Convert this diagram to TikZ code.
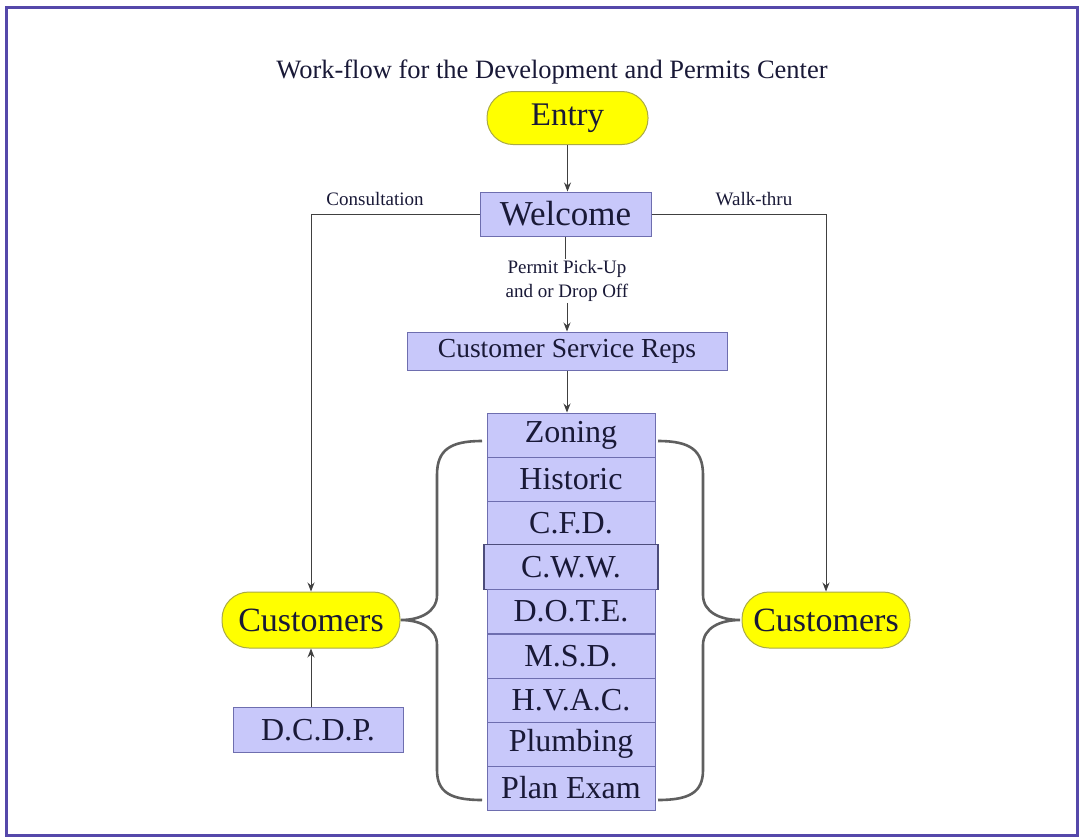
\documentclass[tikz,border=0pt]{standalone}
\usepackage{fontspec}
\setmainfont{Liberation Serif}
\usetikzlibrary{arrows.meta,calc}
\definecolor{boxfill}{RGB}{200,200,250}
\definecolor{boxline}{RGB}{110,110,175}
\definecolor{yel}{RGB}{255,255,0}
\definecolor{yelline}{RGB}{170,170,70}
\definecolor{txt}{RGB}{25,25,55}
\definecolor{frame}{RGB}{85,72,170}
\definecolor{brace}{RGB}{95,95,95}
\tikzset{
  bluebox/.style={draw=boxline, line width=1pt, fill=boxfill, text=txt, inner sep=0pt, font=\fontsize{32}{34}\selectfont},
  yelbox/.style={draw=yelline, line width=1pt, fill=yel, text=txt, inner sep=0pt, rounded corners=26pt, font=\fontsize{33}{35}\selectfont},
  smalltxt/.style={text=txt, inner sep=1pt, font=\fontsize{19}{24}\selectfont, align=center},
  conn/.style={draw=black!75, line width=0.9pt},
  arr/.style={conn, -{Stealth[length=9pt,width=7pt]}},
  bracestyle/.style={draw=brace, line width=2.6pt}
}
\begin{document}
\begin{tikzpicture}[x=1pt,y=-1pt]
\useasboundingbox (0,0) rectangle (1081,839);
\fill[white] (0,0) rectangle (1081,839);
\draw[frame, line width=3pt] (6,7) rectangle (1077,835);

\node[text=txt, font=\fontsize{26.5}{28}\selectfont] (title) at (552,72) {Work-flow for the Development and Permits Center};

\node[yelbox, minimum width=161, minimum height=53] (entry) at (567.5,118) {Entry};
\node[bluebox, minimum width=171, minimum height=44, font=\fontsize{35}{36}\selectfont] (welcome) at (565.5,214) {Welcome};
\node[smalltxt] (consult) at (375,199) {Consultation};
\node[smalltxt] (walk) at (754,199) {Walk-thru};
\node[smalltxt] (pick) at (567,281) {Permit Pick-Up\\and or Drop Off};
\node[bluebox, minimum width=320, minimum height=38, font=\fontsize{27.5}{29}\selectfont] (csr) at (567,351) {Customer Service Reps};

\node[bluebox, minimum width=168, minimum height=44] (zon) at (571,435) {Zoning};
\node[bluebox, minimum width=168, minimum height=44] (his) at (571,479) {Historic};
\node[bluebox, minimum width=168, minimum height=44] (cfd) at (571,523) {C.F.D.};
\node[bluebox, minimum width=174, minimum height=45, line width=1.6pt, draw=boxline!70!black] (cww) at (571,567) {C.W.W.};
\node[bluebox, minimum width=168, minimum height=44] (dote) at (571,611) {D.O.T.E.};
\node[bluebox, minimum width=168, minimum height=44] (msd) at (571,656) {M.S.D.};
\node[bluebox, minimum width=168, minimum height=44] (hvac) at (571,700) {H.V.A.C.};
\node[bluebox, minimum width=168, minimum height=44] (plumb) at (571,744) {Plumbing};
\node[bluebox, minimum width=168, minimum height=44] (plan) at (571,788) {Plan Exam};

\node[yelbox, minimum width=178, minimum height=56, rounded corners=27pt, font=\fontsize{34}{36}\selectfont] (custL) at (311,620) {Customers};
\node[yelbox, minimum width=168, minimum height=56, rounded corners=27pt, font=\fontsize{34}{36}\selectfont] (custR) at (826,620) {Customers};
\node[bluebox, minimum width=170, minimum height=45] (dcdp) at (318,730) {D.C.D.P.};

\draw[arr] (entry.south) -- (entry.south |- welcome.north);
\draw[arr] (welcome.west) -| (custL.north);
\draw[arr] (welcome.east) -| (custR.north);
\draw[conn] (welcome.south) -- (welcome.south |- pick.north);
\draw[arr] (pick.south) -- (pick.south |- csr.north);
\draw[arr] (csr.south) -- (csr.south |- zon.north);
\draw[arr] (custL.south |- dcdp.north) -- (custL.south);

\draw[bracestyle] (482,441) .. controls (450,441) and (437,450) .. (437,475) -- (437,595)
  .. controls (437,612) and (420,620) .. (401,620)
  .. controls (420,620) and (437,628) .. (437,645) -- (437,770)
  .. controls (437,792) and (450,800) .. (482,800);
\draw[bracestyle] (658,441) .. controls (690,441) and (703,450) .. (703,475) -- (703,595)
  .. controls (703,612) and (720,620) .. (740,620)
  .. controls (720,620) and (703,628) .. (703,645) -- (703,770)
  .. controls (703,792) and (690,800) .. (658,800);
\end{tikzpicture}
\end{document}
